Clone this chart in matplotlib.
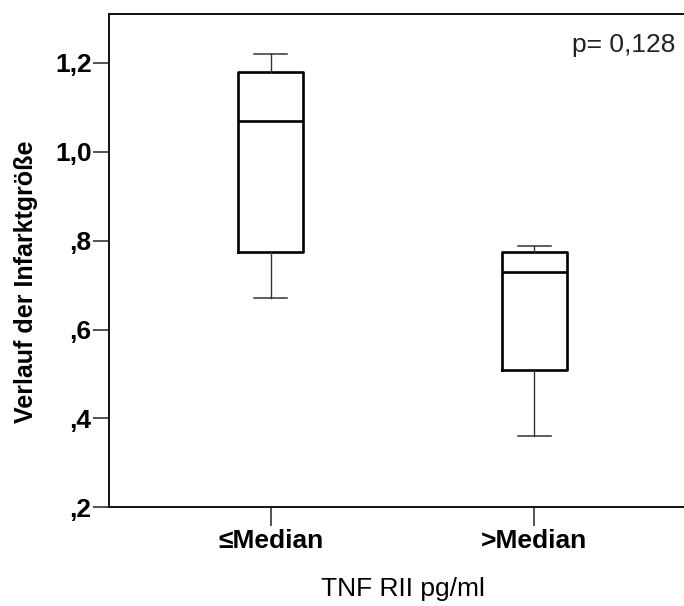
import matplotlib
matplotlib.use("Agg")
import matplotlib.pyplot as plt

plt.rcParams['font.family'] = ['Liberation Sans', 'DejaVu Sans']

# box statistics
GROUPS = ['≤Median', '>Median']
WHISKER_LOW = [0.67, 0.36]
Q1 = [0.774, 0.509]
MEDIAN = [1.07, 0.73]
Q3 = [1.18, 0.774]
WHISKER_HIGH = [1.22, 0.789]

Y_TICKS = [0.2, 0.4, 0.6, 0.8, 1.0, 1.2]
Y_TICK_LABELS = [',2', ',4', ',6', ',8', '1,0', '1,2']

X_TITLE = "TNF RII pg/ml"
Y_TITLE = "Verlauf der Infarktgröße"
P_TEXT = "p= 0,128"

W, H = 684, 606
fig = plt.figure(figsize=(W / 100, H / 100), dpi=100)
ax = fig.add_axes([109 / W, (H - 507.3) / H, (696 - 109) / W, (507.3 - 14) / H])

stats = []
for i in range(len(GROUPS)):
    stats.append({'whislo': WHISKER_LOW[i], 'q1': Q1[i], 'med': MEDIAN[i],
                  'q3': Q3[i], 'whishi': WHISKER_HIGH[i], 'fliers': []})

ax.bxp(stats, positions=[1, 2], widths=0.246, capwidths=0.125, showfliers=False,
       boxprops=dict(color='black', linewidth=1.9),
       medianprops=dict(color='black', linewidth=1.9),
       whiskerprops=dict(color='#333333', linewidth=1.0),
       capprops=dict(color='#333333', linewidth=1.1))

ax.set_xlim(0.388, 2.612)
ax.set_ylim(0.2, 1.31)
ax.set_xticks([1, 2])
ax.set_xticklabels(GROUPS, fontsize=19, fontweight='bold')
ax.set_yticks(Y_TICKS)
ax.set_yticklabels(Y_TICK_LABELS, fontsize=19, fontweight='bold')

for s in ax.spines.values():
    s.set_linewidth(1.4)
    s.set_color('#111111')

ax.tick_params(axis='y', length=11.5, width=1.3, color='#444444', pad=1)
ax.tick_params(axis='x', length=13.7, width=1.3, color='#444444', pad=2)

ax.set_xlabel(X_TITLE, fontsize=19)
ax.xaxis.set_label_coords(0.5, (507.3 - 577) / 493.3)
ax.set_ylabel(Y_TITLE, fontsize=18, fontweight='bold')
ax.yaxis.set_label_coords((38 - 109) / 587, (507.3 - 282) / 493.3)

fig.text(675 / W, 1 - 52 / H, P_TEXT, ha='right', va='baseline', fontsize=19, color='#222222')

fig.savefig("out.png", dpi=100)
